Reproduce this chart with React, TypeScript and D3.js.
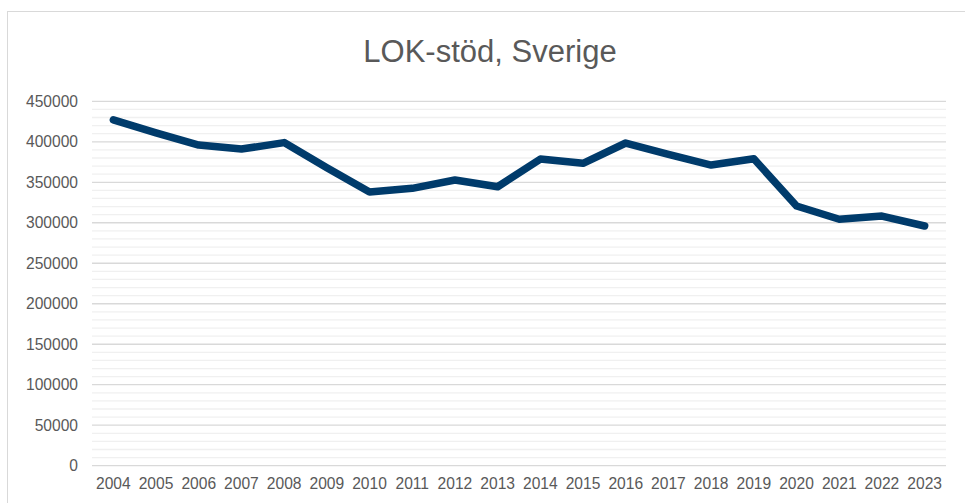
import * as d3 from "d3";

const years = [
  "2004", "2005", "2006", "2007", "2008", "2009", "2010", "2011", "2012", "2013",
  "2014", "2015", "2016", "2017", "2018", "2019", "2020", "2021", "2022", "2023",
];
const lokStod = [
  427000, 411000, 396000, 391000, 399000, 368000, 338000, 342500, 352800, 344500,
  378700, 373400, 398500, 384500, 371300, 379000, 320700, 304300, 308300, 296000,
];
const yTicks = [0, 50000, 100000, 150000, 200000, 250000, 300000, 350000, 400000, 450000];
const minorStep = 10000;

const W = 965;
const H = 503;
const plot = { left: 92, right: 946, top: 101.3, bottom: 465.7 };
const font = "'Liberation Sans', Arial, sans-serif";

export default function App() {
  const x = d3.scaleBand().domain(years).range([plot.left, plot.right]);
  const y = d3.scaleLinear().domain([0, 450000]).range([plot.bottom, plot.top]);
  const minor = d3.range(0, 450001, minorStep).filter((v) => v % 50000 !== 0);

  const line = d3
    .line<number>()
    .x((_, i) => (x(years[i]) as number) + x.bandwidth() / 2)
    .y((d) => y(d));

  return (
    <svg
      width={W}
      height={H}
      style={{ position: "absolute", left: 0, top: 0, background: "#fff" }}
    >
      {/* chart frame, runs off the right and bottom */}
      <rect x={7.5} y={11.5} width={1000} height={600} fill="#fff" stroke="#d9d9d9" />

      <text
        x={490}
        y={62}
        textAnchor="middle"
        fontFamily={font}
        fontSize={31}
        fill="#595959"
      >
        LOK-stöd, Sverige
      </text>

      {minor.map((v) => (
        <line
          key={"m" + v}
          x1={plot.left}
          x2={plot.right}
          y1={y(v)}
          y2={y(v)}
          stroke="#f0f0f0"
          strokeWidth={1.3}
        />
      ))}
      {yTicks.map((v) => (
        <line
          key={"g" + v}
          x1={plot.left}
          x2={plot.right}
          y1={y(v)}
          y2={y(v)}
          stroke="#d9d9d9"
          strokeWidth={1.3}
        />
      ))}

      {yTicks.map((v) => (
        <text
          key={"yl" + v}
          x={78}
          y={y(v)}
          dy="0.35em"
          textAnchor="end"
          fontFamily={font}
          fontSize={15.6}
          fill="#595959"
        >
          {v}
        </text>
      ))}

      {years.map((yr) => (
        <text
          key={yr}
          x={(x(yr) as number) + x.bandwidth() / 2}
          y={489}
          textAnchor="middle"
          fontFamily={font}
          fontSize={15.6}
          fill="#595959"
        >
          {yr}
        </text>
      ))}

      <path
        d={line(lokStod) ?? ""}
        fill="none"
        stroke="#003b6b"
        strokeWidth={7.5}
        strokeLinejoin="round"
        strokeLinecap="round"
      />
    </svg>
  );
}
